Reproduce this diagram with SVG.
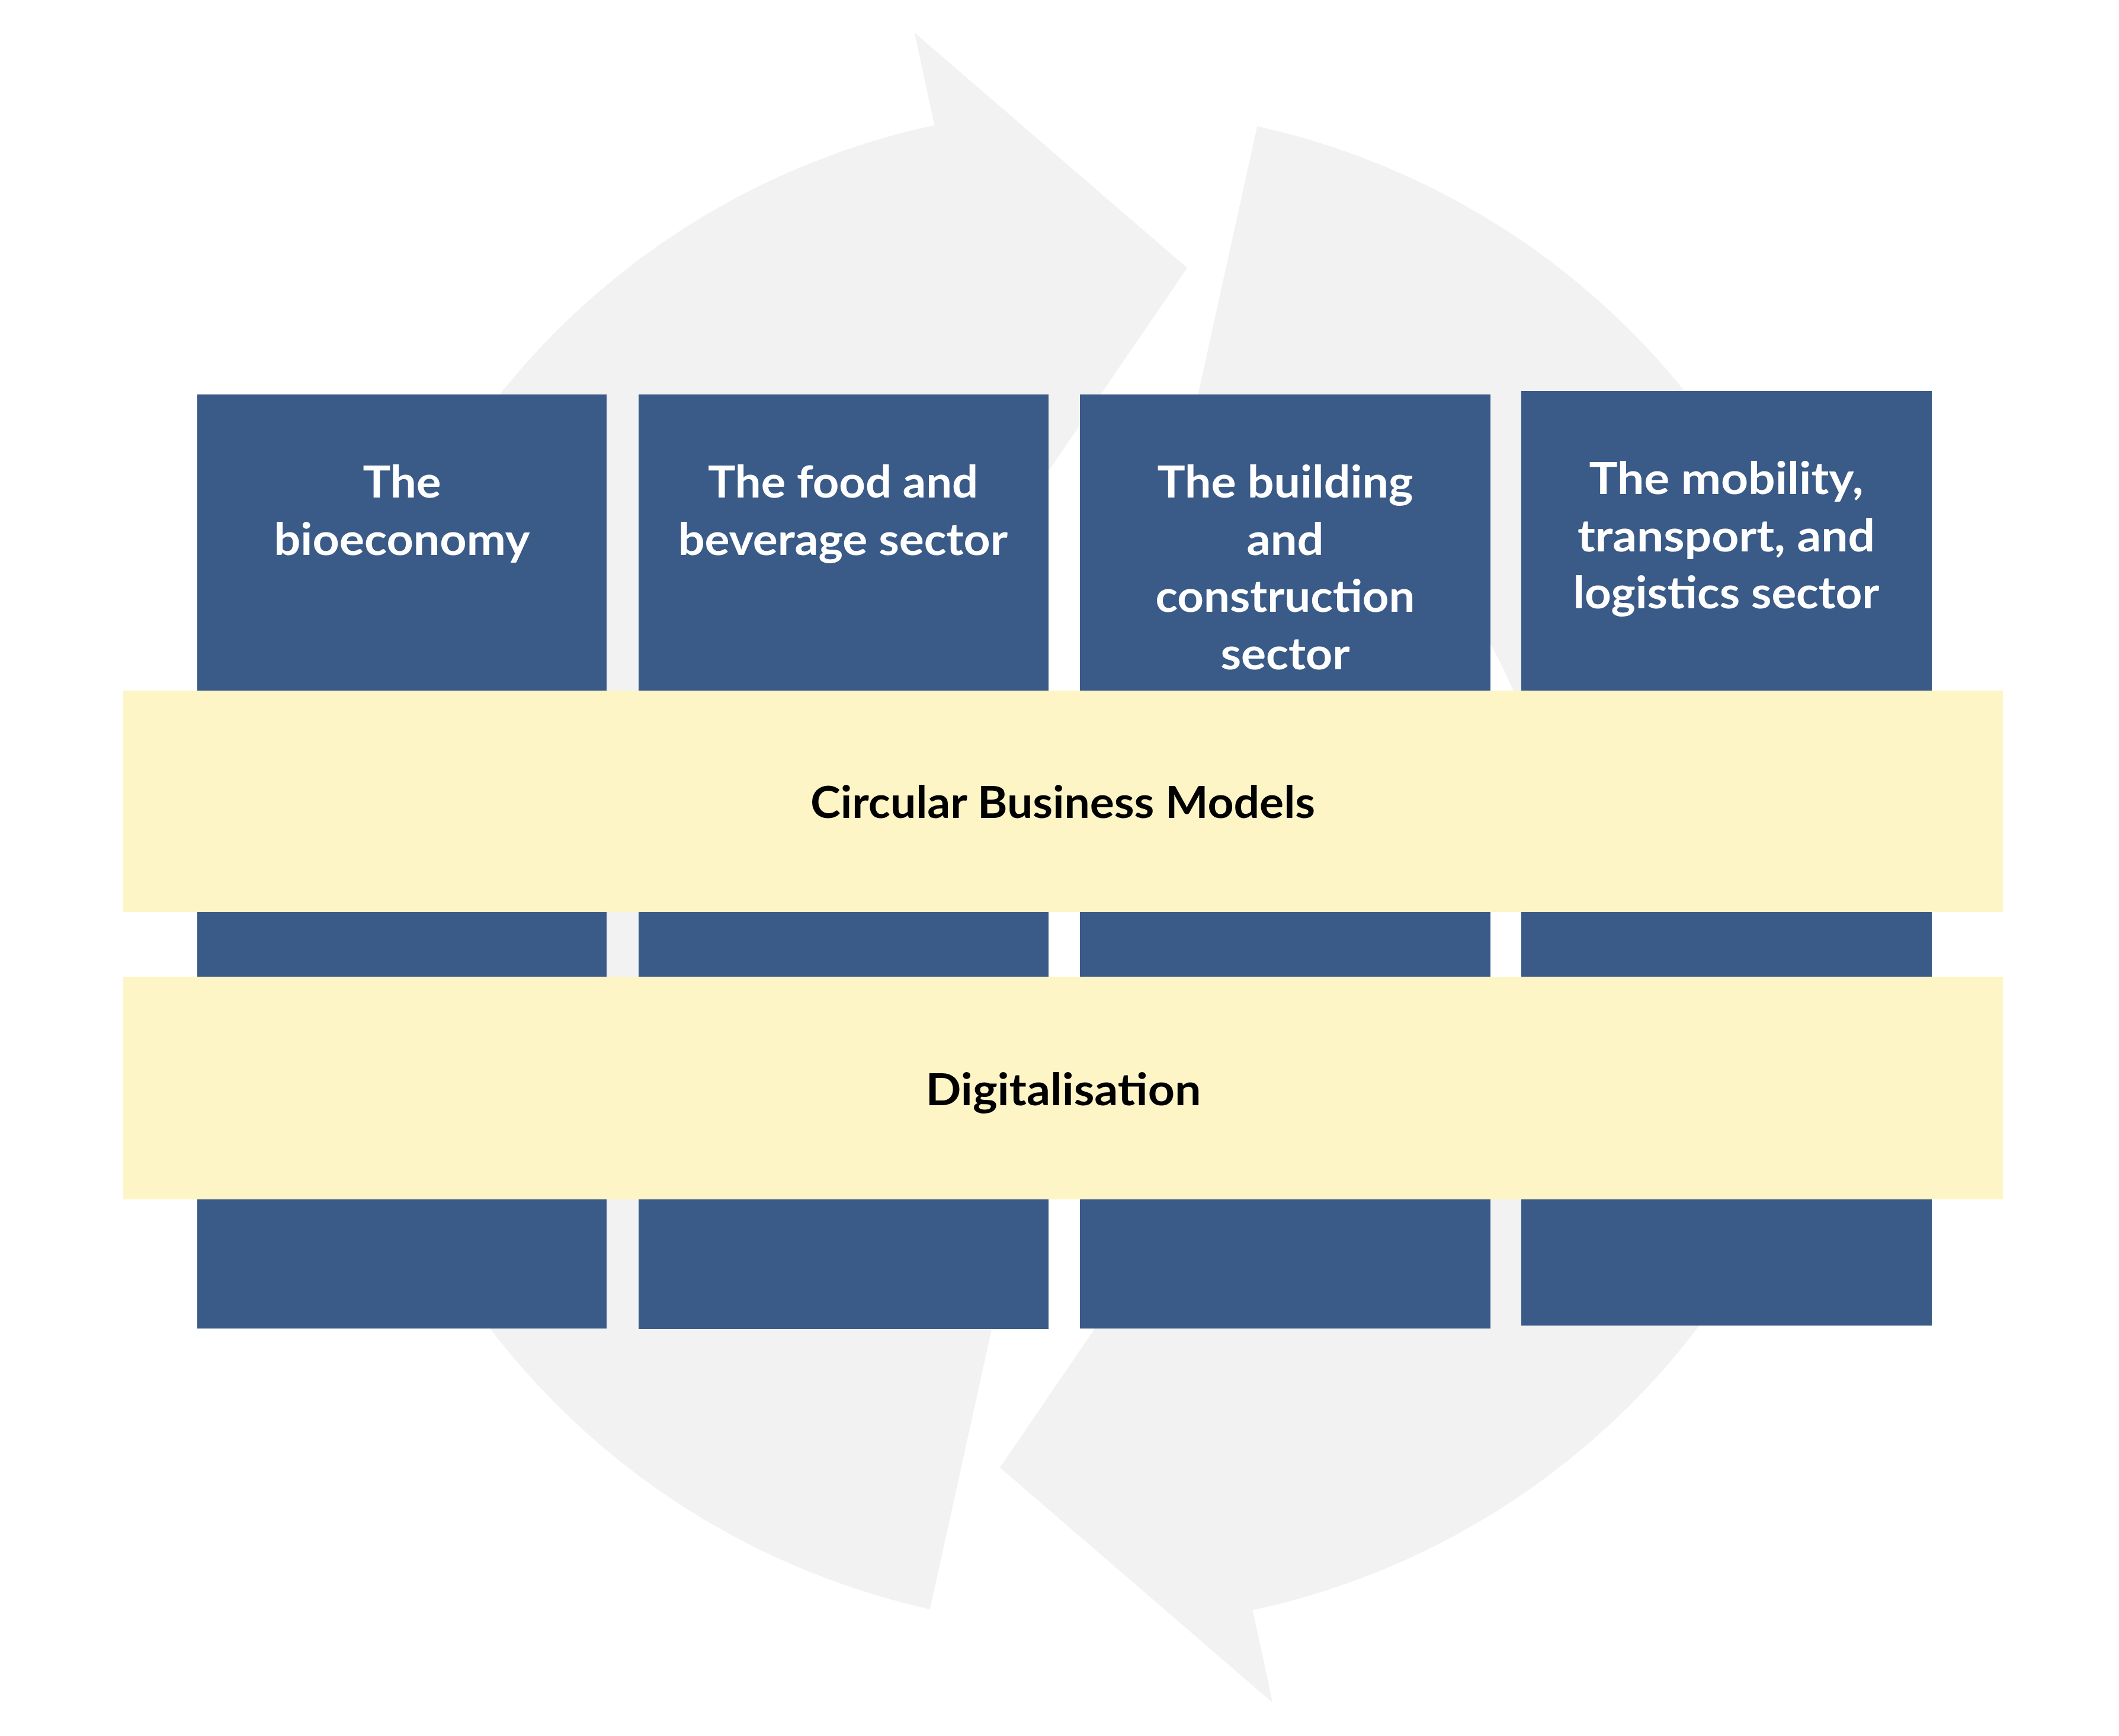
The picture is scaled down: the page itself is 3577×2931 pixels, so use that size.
<svg xmlns="http://www.w3.org/2000/svg" xmlns:xlink="http://www.w3.org/1999/xlink" width="3577" height="2931" viewBox="0 0 3577 2931">
<style>
.bg{fill:#FFFFFF}
.arrow{fill:#F2F2F2}
.sector{fill:#3A5A87}
.band{fill:#FEF5C7}
.lbl{font-family:Lato,"Liberation Sans",sans-serif;font-weight:bold;font-size:75px;text-anchor:middle}
.w{fill:#FFFFFF}
.k{fill:#000000}
</style>
<defs>
<path id="cyc" d="M -1251.9 -276.2 A 1282 1282 0 0 1 -268.7 -1253.5 L -302.3 -1410.0 L 158.1 -1012.7 L -127.4 -594.5 L -161.2 -751.9 A 769 769 0 0 0 -750.9 -165.7 Z"/>
</defs>
<rect class="bg" x="0" y="0" width="3577" height="2931"/>
<g id="cycle-arrows" transform="translate(1846,1465)">
<use xlink:href="#cyc" class="arrow"/>
<use xlink:href="#cyc" class="arrow" transform="rotate(90)"/>
<use xlink:href="#cyc" class="arrow" transform="rotate(180)"/>
<use xlink:href="#cyc" class="arrow" transform="rotate(270)"/>
</g>
<g id="bioeconomy">
<rect class="sector" x="333" y="666" width="691" height="1577"/>
<text class="lbl w" x="678.5" y="840" textLength="132" lengthAdjust="spacingAndGlyphs">The</text>
<text class="lbl w" x="678.5" y="937" textLength="432" lengthAdjust="spacingAndGlyphs">bioeconomy</text>
</g>
<g id="food-beverage">
<rect class="sector" x="1078" y="666" width="692" height="1578"/>
<text class="lbl w" x="1423" y="840" textLength="456" lengthAdjust="spacingAndGlyphs">The food and</text>
<text class="lbl w" x="1423" y="937" textLength="556" lengthAdjust="spacingAndGlyphs">beverage sector</text>
</g>
<g id="building-construction">
<rect class="sector" x="1823" y="666" width="693" height="1577"/>
<text class="lbl w" x="2169.5" y="840" textLength="432" lengthAdjust="spacingAndGlyphs">The building</text>
<text class="lbl w" x="2169.5" y="937" textLength="130" lengthAdjust="spacingAndGlyphs">and</text>
<text class="lbl w" x="2169.5" y="1033" textLength="438" lengthAdjust="spacingAndGlyphs">construction</text>
<text class="lbl w" x="2169.5" y="1130" textLength="218" lengthAdjust="spacingAndGlyphs">sector</text>
</g>
<g id="mobility-transport-logistics">
<rect class="sector" x="2568" y="660" width="693" height="1578"/>
<text class="lbl w" x="2914" y="834" textLength="463" lengthAdjust="spacingAndGlyphs">The mobility,</text>
<text class="lbl w" x="2914" y="931" textLength="502" lengthAdjust="spacingAndGlyphs">transport, and</text>
<text class="lbl w" x="2914" y="1027" textLength="517" lengthAdjust="spacingAndGlyphs">logistics sector</text>
</g>
<g id="circular-business-models">
<rect class="band" x="208" y="1166" width="3173" height="374"/>
<text class="lbl k" x="1794" y="1381" textLength="852" lengthAdjust="spacingAndGlyphs">Circular Business Models</text>
</g>
<g id="digitalisation">
<rect class="band" x="208" y="1649" width="3173" height="376"/>
<text class="lbl k" x="1795" y="1866" textLength="465" lengthAdjust="spacingAndGlyphs">Digitalisation</text>
</g>
<g id="connectors"/>
</svg>
